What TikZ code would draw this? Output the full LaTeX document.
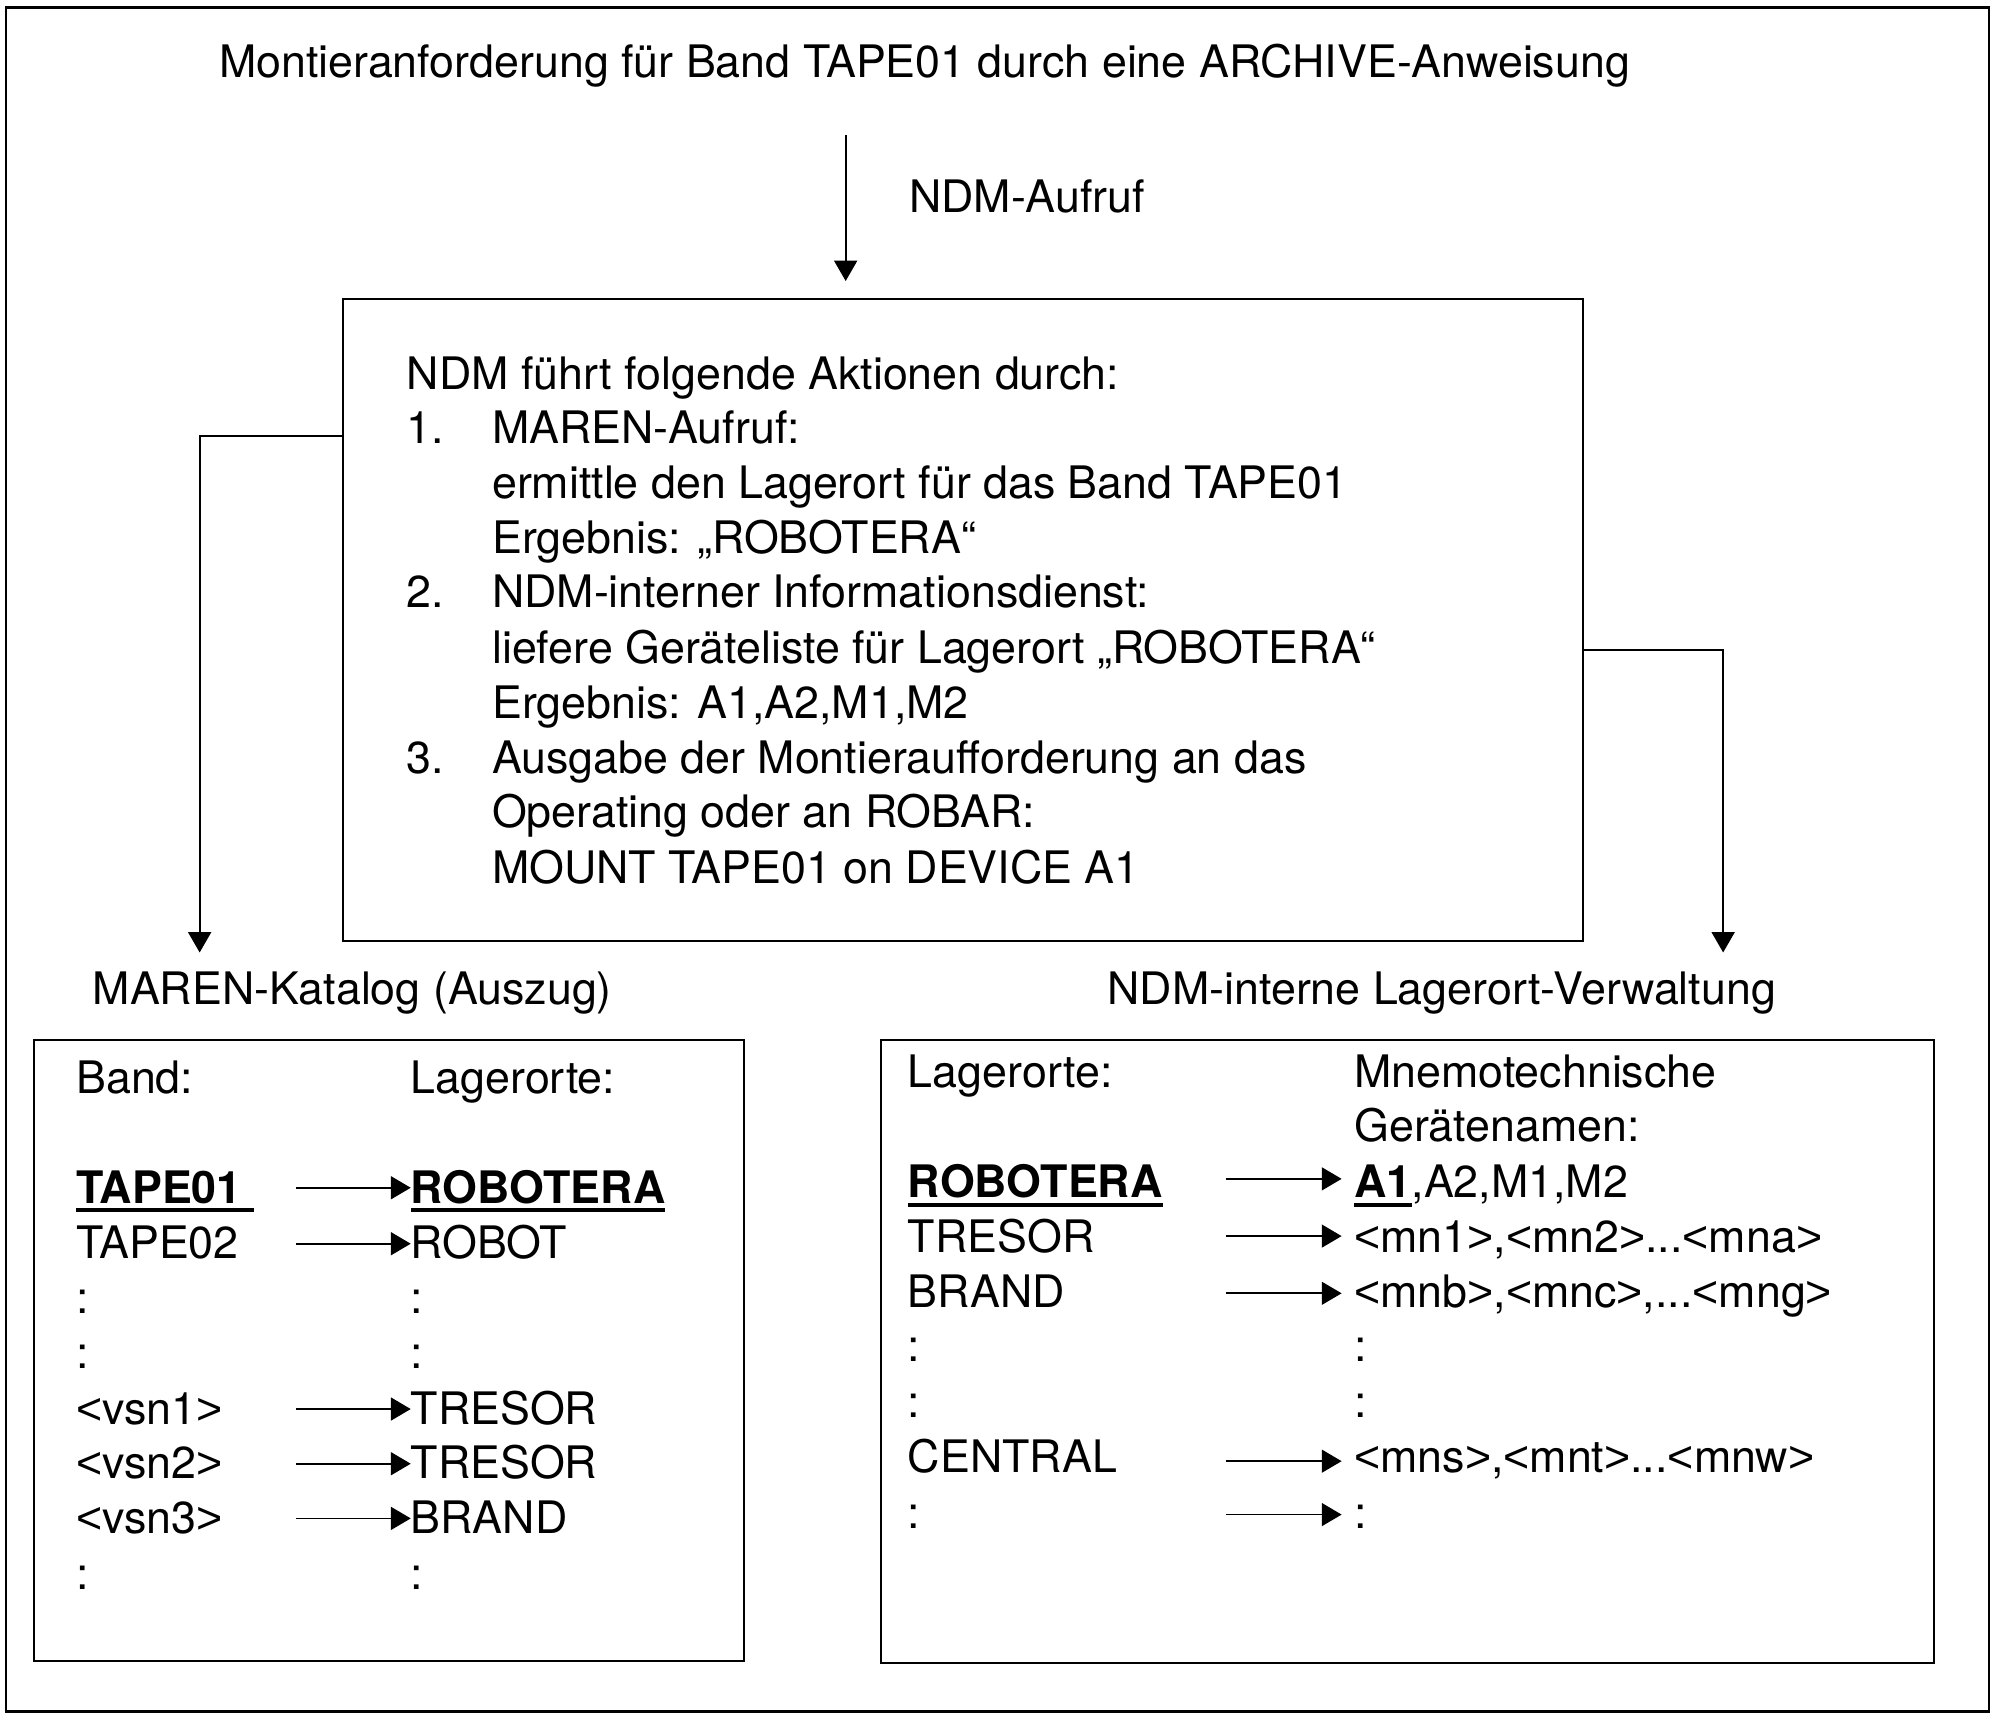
\documentclass[tikz,border=0pt]{standalone}
\usepackage{fontspec}
\setmainfont{TeX Gyre Heros}
\newfontfamily\lib{Liberation Sans}
\usetikzlibrary{arrows.meta}
\newcommand\myul[1]{\setbox0\hbox{#1}\rlap{\rule[-3.6pt]{\wd0}{1.5pt}}\box0}
\newcommand\lt{{\lib<}}
\newcommand\gt{{\lib>}}
\tikzset{
  txt/.style={inner sep=0pt, outer sep=0pt, anchor=base west, font=\fontsize{17.6}{21}\selectfont},
  ctxt/.style={inner sep=0pt, outer sep=0pt, anchor=base, font=\fontsize{17.6}{21}\selectfont},
  frame/.style={draw, line width=0.9pt, inner sep=0pt, anchor=north west},
  bigarrow/.style={line width=0.8pt, -{Triangle[length=8pt,width=9pt]}},
  tarrow/.style={line width=0.7pt, -{Triangle[length=7.8pt,width=9pt]}}
}
\begin{document}
\begin{tikzpicture}[x=0.5pt,y=-0.5pt]
\useasboundingbox (0,0) rectangle (1568,1348.6);
% outer frame
\node[frame, minimum width=779.5pt, minimum height=670pt] (outer) at (4,5) {};
% title
\node[ctxt] (title) at (727,61) {Montieranforderung für Band TAPE01 durch eine ARCHIVE-Anweisung};
\node[txt] (aufruf) at (715,167) {NDM-Aufruf};
% main box
\node[frame, minimum width=487.5pt, minimum height=252.5pt] (main) at (269,234) {};
\coordinate (astart) at (665,106);
\coordinate (aend) at (665,221);
\draw[bigarrow] (astart) -- (aend);
\node[txt] (m0) at (320,306) {NDM führt folgende Aktionen durch:};
\node[txt] (n1) at (320,349) {1.};
\node[txt] (m1) at (387,349) {MAREN-Aufruf:};
\node[txt] (m2) at (387,392) {ermittle den Lagerort für das Band TAPE01};
\node[txt] (m3) at (387,435) {Ergebnis: „ROBOTERA“};
\node[txt] (n2) at (320,478) {2.};
\node[txt] (m4) at (387,478) {NDM-interner Informationsdienst:};
\node[txt] (m5) at (387,522) {liefere Geräteliste für Lagerort „ROBOTERA“};
\node[txt] (m6) at (387,565) {Ergebnis: A1,A2,M1,M2};
\node[txt] (n3) at (320,608) {3.};
\node[txt] (m7) at (387,608) {Ausgabe der Montieraufforderung an das};
\node[txt] (m8) at (387,651) {Operating oder an ROBAR:};
\node[txt] (m9) at (387,695) {MOUNT TAPE01 on DEVICE A1};
% captions
\node[txt] (capL) at (73,790) {MAREN-Katalog (Auszug)};
\node[txt] (capR) at (871,790) {NDM-interne Lagerort-Verwaltung};
% connectors
\coordinate (lbend) at (157,343);
\coordinate (ltip) at (157,749);
\draw[bigarrow] (main.west |- lbend) -- (lbend) -- (ltip);
\coordinate (rbend) at (1355,511);
\coordinate (rtip) at (1355,749);
\draw[bigarrow] (main.east |- rbend) -- (rbend) -- (rtip);
% left box
\node[frame, minimum width=279pt, minimum height=244pt] (lbox) at (26,817) {};
\node[txt] (lh1) at (60,860) {Band:};
\node[txt] (lh2) at (323,860) {Lagerorte:};
\node[txt] (la1) at (60,946) {\myul{\textbf{TAPE01}\ }};
\node[txt] (lb1) at (323,946) {\myul{\textbf{ROBOTERA}}};
\node[txt] (la2) at (60,990) {TAPE02};
\node[txt] (lb2) at (323,990) {ROBOT};
\node[txt] (la3) at (60,1033) {:};
\node[txt] (lb3) at (323,1033) {:};
\node[txt] (la4) at (60,1076) {:};
\node[txt] (lb4) at (323,1076) {:};
\node[txt] (la5) at (60,1120) {\lt vsn1\gt};
\node[txt] (lb5) at (323,1120) {TRESOR};
\node[txt] (la6) at (60,1163) {\lt vsn2\gt};
\node[txt] (lb6) at (323,1163) {TRESOR};
\node[txt] (la7) at (60,1206) {\lt vsn3\gt};
\node[txt] (lb7) at (323,1206) {BRAND};
\node[txt] (la8) at (60,1250) {:};
\node[txt] (lb8) at (323,1250) {:};
\foreach \i/\y in {1/934,2/978,5/1108,6/1151,7/1194}{
  \coordinate (ls\i) at (233,\y);
  \draw[tarrow] (ls\i) -- (ls\i -| lb\i.west);
}
% right box
\node[frame, minimum width=414pt, minimum height=245pt] (rbox) at (692,817) {};
\node[txt] (rh1) at (714,855) {Lagerorte:};
\node[txt] (rh2) at (1065,855) {Mnemotechnische};
\node[txt] (rh3) at (1065,898) {Gerätenamen:};
\node[txt] (ra1) at (714,942) {\myul{\textbf{ROBOTERA}}};
\node[txt] (rb1) at (1065,942) {\myul{\textbf{A1}},A2,M1,M2};
\node[txt] (ra2) at (714,985) {TRESOR};
\node[txt] (rb2) at (1065,985) {\lt mn1\gt,\lt mn2\gt...\lt mna\gt};
\node[txt] (ra3) at (714,1028) {BRAND};
\node[txt] (rb3) at (1065,1028) {\lt mnb\gt,\lt mnc\gt,...\lt mng\gt};
\node[txt] (ra4) at (714,1071) {:};
\node[txt] (rb4) at (1065,1071) {:};
\node[txt] (ra5) at (714,1115) {:};
\node[txt] (rb5) at (1065,1115) {:};
\node[txt] (ra6) at (714,1158) {CENTRAL};
\node[txt] (rb6) at (1065,1158) {\lt mns\gt,\lt mnt\gt...\lt mnw\gt};
\node[txt] (ra7) at (714,1202) {:};
\node[txt] (rb7) at (1065,1202) {:};
\foreach \i/\y in {1/927,2/972,3/1017,6/1149,7/1191}{
  \coordinate (rs\i) at (964,\y);
  \coordinate (re\i) at (1055,\y);
  \draw[tarrow] (rs\i) -- (re\i);
}
\end{tikzpicture}
\end{document}
